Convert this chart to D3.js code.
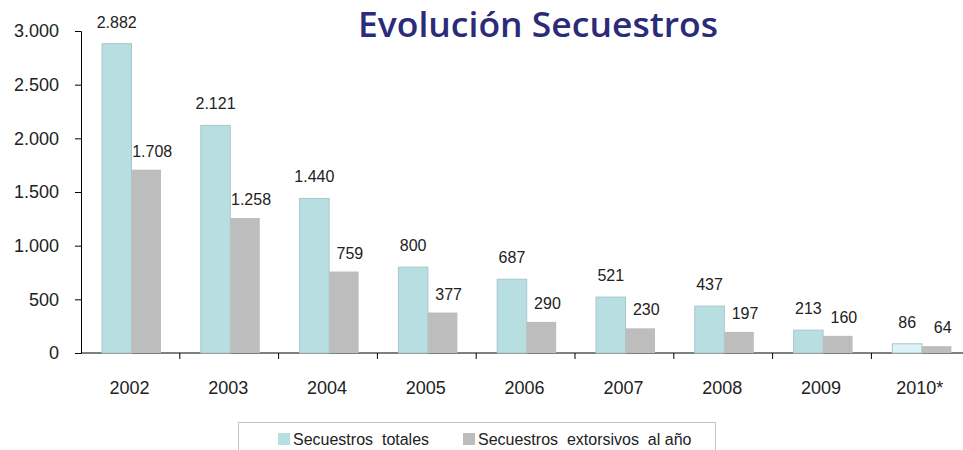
<!DOCTYPE html>
<html>
<head>
<meta charset="utf-8">
<script src="https://cdn.jsdelivr.net/npm/d3@7"></script>
<style>
  body { margin: 0; background: #fff; }
  svg { display: block; }
</style>
</head>
<body>
<div id="chart"></div>
<script>
window.addEventListener("DOMContentLoaded", function() {
    // Data
    const years = ['2002', '2003', '2004', '2005', '2006', '2007', '2008', '2009', '2010*'];
    const totales = [2882, 2121, 1440, 800, 687, 521, 437, 213, 86];
    const extorsivos = [1708, 1258, 759, 377, 290, 230, 197, 160, 64];
    const seriesNames = ['Secuestros  totales', 'Secuestros  extorsivos  al año'];
    const yTicks = [0, 500, 1000, 1500, 2000, 2500, 3000];

    const width = 963;
    const height = 450;
    const margin = { left: 81, top: 31, bottom: 97 };
    const x0 = margin.left;
    const bandW = 98.8;
    const fmt = d3.format(',');
    const dot = v => fmt(v).replace(/,/g, '.');
    const font = '"Liberation Sans", Arial, sans-serif';

    const svg = d3.select('#chart')
        .append('svg')
        .attr('width', width)
        .attr('height', height);

    // Scales
    const x = d3.scaleBand()
        .domain(years)
        .range([x0, x0 + bandW * years.length])
        .paddingInner(0).paddingOuter(0);

    const y = d3.scaleLinear()
        .domain([0, 3000])
        .range([height - margin.bottom, margin.top]);

    const barW = 29.5;
    const barOff = 21;

    // Axes
    const yAxis = svg.append('g')
        .attr('transform', `translate(${x0},0)`)
        .call(d3.axisLeft(y).tickValues(yTicks).tickSize(6).tickFormat(dot));
    yAxis.select('.domain').attr('stroke', '#000');
    yAxis.selectAll('text')
        .attr('x', -22)
        .style('font-family', font)
        .style('font-size', '18px')
        .attr('fill', '#222');

    const xAxis = svg.append('g')
        .attr('transform', `translate(0,${y(0)})`)
        .call(d3.axisBottom(x).tickSize(0).tickFormat(''));
    xAxis.select('.domain').attr('stroke', '#000').attr('d', `M${x0},0H${width}`);

    // x tick marks between categories
    svg.append('g').selectAll('line')
        .data(years.slice(1))
        .enter()
        .append('line')
        .attr('x1', d => x(d)).attr('x2', d => x(d))
        .attr('y1', y(0)).attr('y2', y(0) + 6)
        .attr('stroke', '#000');

    svg.append('g').selectAll('text')
        .data(years)
        .enter()
        .append('text')
        .attr('x', d => x(d) + bandW / 2 - 1)
        .attr('y', y(0) + 41)
        .attr('text-anchor', 'middle')
        .style('font-family', font)
        .style('font-size', '18px')
        .attr('fill', '#222')
        .text(d => d);

    // Bars
    const last = years.length - 1;
    svg.append('g').selectAll('rect')
        .data(totales)
        .enter()
        .append('rect')
        .attr('x', (d, i) => x(years[i]) + barOff)
        .attr('y', d => y(d))
        .attr('width', barW)
        .attr('height', d => y(0) - y(d))
        .attr('fill', (d, i) => i === last ? '#dbf2f6' : '#b7dfe2')
        .attr('stroke', '#a9c6ca')
        .attr('stroke-width', 1);

    svg.append('g').selectAll('rect')
        .data(extorsivos)
        .enter()
        .append('rect')
        .attr('x', (d, i) => x(years[i]) + barOff + barW)
        .attr('y', d => y(d))
        .attr('width', barW)
        .attr('height', d => y(0) - y(d))
        .attr('fill', '#bdbdbd');

    // Value labels
    const labelStyle = sel => sel
        .attr('text-anchor', 'middle')
        .style('font-family', font)
        .style('font-size', '16px')
        .attr('fill', '#222');

    svg.append('g').selectAll('text')
        .data(totales)
        .enter()
        .append('text')
        .attr('x', (d, i) => x(years[i]) + barOff + barW / 2)
        .attr('y', d => y(d) - 16)
        .call(labelStyle)
        .text(dot);

    svg.append('g').selectAll('text')
        .data(extorsivos)
        .enter()
        .append('text')
        .attr('x', (d, i) => x(years[i]) + barOff + barW * 1.5 + 6)
        .attr('y', d => y(d) - 13)
        .call(labelStyle)
        .text(dot);

    // Title
    svg.append('text')
        .attr('x', 538)
        .attr('y', 37)
        .attr('text-anchor', 'middle')
        .attr('textLength', 360)
        .attr('lengthAdjust', 'spacingAndGlyphs')
        .style('font-family', '"Open Sans", "DejaVu Sans", sans-serif')
        .style('font-weight', 600)
        .style('font-size', '35px')
        .attr('fill', '#2b2b7a')
        .text('Evolución Secuestros');

    // Legend
    const legend = svg.append('g');
    legend.append('rect')
        .attr('x', 238.5).attr('y', 422.5)
        .attr('width', 477).attr('height', 40)
        .attr('fill', '#fff')
        .attr('stroke', '#c4c4c4');

    const legendX = [278, 463];
    const legendColors = ['#b7dfe2', '#bdbdbd'];
    seriesNames.forEach((name, i) => {
        legend.append('rect')
            .attr('x', legendX[i]).attr('y', 433)
            .attr('width', 12).attr('height', 12)
            .attr('fill', legendColors[i]);
        legend.append('text')
            .attr('x', legendX[i] + 15).attr('y', 445)
            .style('font-family', font)
            .style('font-size', '16px')
            .attr('fill', '#222')
            .style('white-space', 'pre')
            .text(name);
    });
});
</script>
</body>
</html>
